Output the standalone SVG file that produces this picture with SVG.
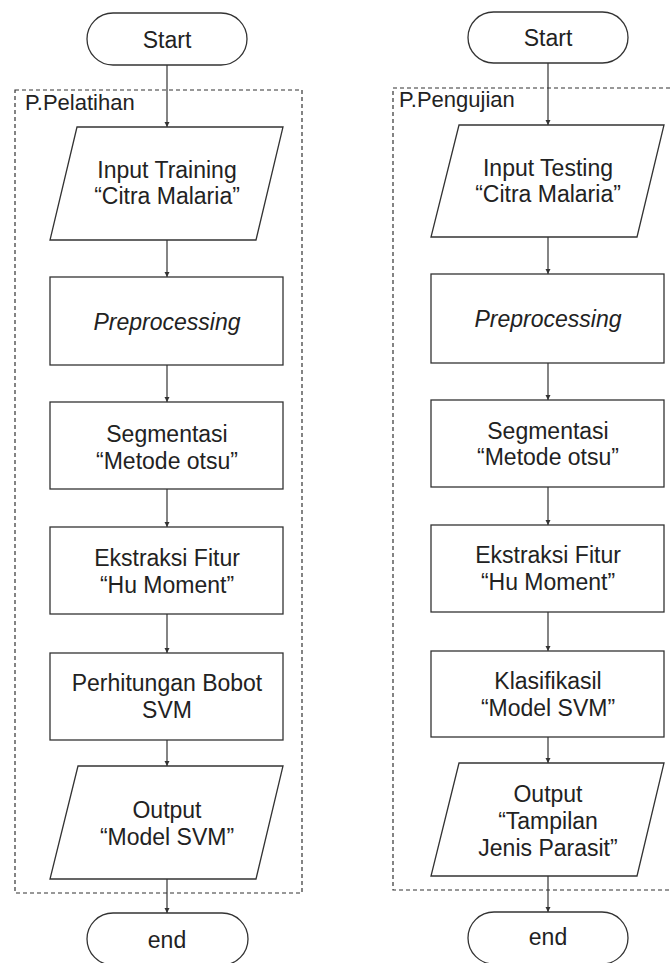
<svg xmlns="http://www.w3.org/2000/svg" width="670" height="963" viewBox="0 0 670 963">
<style>
.s{fill:#fff;stroke:#333;stroke-width:1.3}
.d{fill:none;stroke:#333;stroke-width:1.2;stroke-dasharray:4 3}
.t{font-family:"Liberation Sans",Arial,sans-serif;font-size:23px;fill:#222;text-anchor:middle}
.l{font-family:"Liberation Sans",Arial,sans-serif;font-size:22px;fill:#222}
.c{fill:none;stroke:#333;stroke-width:1.2;marker-end:url(#a)}
</style>
<defs>
<marker id="a" viewBox="0 0 10 10" refX="10" refY="5" markerWidth="5" markerHeight="6" markerUnits="userSpaceOnUse" orient="auto">
<path d="M0,0 L10,5 L0,10 z" fill="#333"/>
</marker>
</defs>
<rect width="670" height="963" fill="#fff"/>
<g id="containers">
<rect class="d" x="15" y="90" width="287" height="803"/>
<text class="l" x="25" y="110">P.Pelatihan</text>
<rect class="d" x="393" y="88" width="290" height="802"/>
<text class="l" x="399" y="107">P.Pengujian</text>
</g>
<g id="connectors">
<line class="c" x1="167" y1="65" x2="167" y2="127"/>
<line class="c" x1="167" y1="240" x2="167" y2="277"/>
<line class="c" x1="167" y1="365" x2="167" y2="402"/>
<line class="c" x1="167" y1="489" x2="167" y2="527"/>
<line class="c" x1="167" y1="614" x2="167" y2="653"/>
<line class="c" x1="167" y1="740" x2="167" y2="766"/>
<line class="c" x1="167" y1="879" x2="167" y2="913"/>
<line class="c" x1="548" y1="63" x2="548" y2="125"/>
<line class="c" x1="548" y1="237" x2="548" y2="274"/>
<line class="c" x1="548" y1="363" x2="548" y2="400"/>
<line class="c" x1="548" y1="487" x2="548" y2="525"/>
<line class="c" x1="548" y1="612" x2="548" y2="651"/>
<line class="c" x1="548" y1="737" x2="548" y2="763"/>
<line class="c" x1="548" y1="876" x2="548" y2="912"/>
</g>
<g id="L-start"><rect class="s" x="87" y="13" width="160" height="52" rx="26"/><text class="t" x="167" y="48">Start</text></g>
<g id="L-input"><polygon class="s" points="77,127 283,127 256,240 50,240"/><text class="t" x="167" y="178">Input Training</text><text class="t" x="167" y="204">“Citra Malaria”</text></g>
<g id="L-pre"><rect class="s" x="50" y="277" width="233" height="88"/><text class="t" x="167" y="330" font-style="italic">Preprocessing</text></g>
<g id="L-seg"><rect class="s" x="50" y="402" width="233" height="87"/><text class="t" x="167" y="442">Segmentasi</text><text class="t" x="167" y="469">“Metode otsu”</text></g>
<g id="L-eks"><rect class="s" x="50" y="527" width="233" height="87"/><text class="t" x="167" y="566">Ekstraksi Fitur</text><text class="t" x="167" y="593">“Hu Moment”</text></g>
<g id="L-bobot"><rect class="s" x="50" y="653" width="233" height="87"/><text class="t" x="167" y="691">Perhitungan Bobot</text><text class="t" x="167" y="718">SVM</text></g>
<g id="L-output"><polygon class="s" points="78,766 283,766 256,879 50,879"/><text class="t" x="167" y="818">Output</text><text class="t" x="167" y="845">“Model SVM”</text></g>
<g id="L-end"><rect class="s" x="87" y="913" width="161" height="52" rx="26"/><text class="t" x="167" y="948">end</text></g>
<g id="R-start"><rect class="s" x="468" y="12" width="160" height="51" rx="25.5"/><text class="t" x="548" y="46">Start</text></g>
<g id="R-input"><polygon class="s" points="459,125 664,125 637,237 431,237"/><text class="t" x="548" y="176">Input Testing</text><text class="t" x="548" y="202">“Citra Malaria”</text></g>
<g id="R-pre"><rect class="s" x="431" y="274" width="233" height="89"/><text class="t" x="548" y="327" font-style="italic">Preprocessing</text></g>
<g id="R-seg"><rect class="s" x="431" y="400" width="233" height="87"/><text class="t" x="548" y="439">Segmentasi</text><text class="t" x="548" y="465">“Metode otsu”</text></g>
<g id="R-eks"><rect class="s" x="431" y="525" width="233" height="87"/><text class="t" x="548" y="563">Ekstraksi Fitur</text><text class="t" x="548" y="590">“Hu Moment”</text></g>
<g id="R-klas"><rect class="s" x="431" y="651" width="233" height="86"/><text class="t" x="548" y="689">Klasifikasil</text><text class="t" x="548" y="716">“Model SVM”</text></g>
<g id="R-output"><polygon class="s" points="459,763 664,763 637,876 431,876"/><text class="t" x="548" y="802">Output</text><text class="t" x="548" y="829">“Tampilan</text><text class="t" x="548" y="856">Jenis Parasit”</text></g>
<g id="R-end"><rect class="s" x="468" y="912" width="160" height="52" rx="26"/><text class="t" x="548" y="945">end</text></g>
</svg>
